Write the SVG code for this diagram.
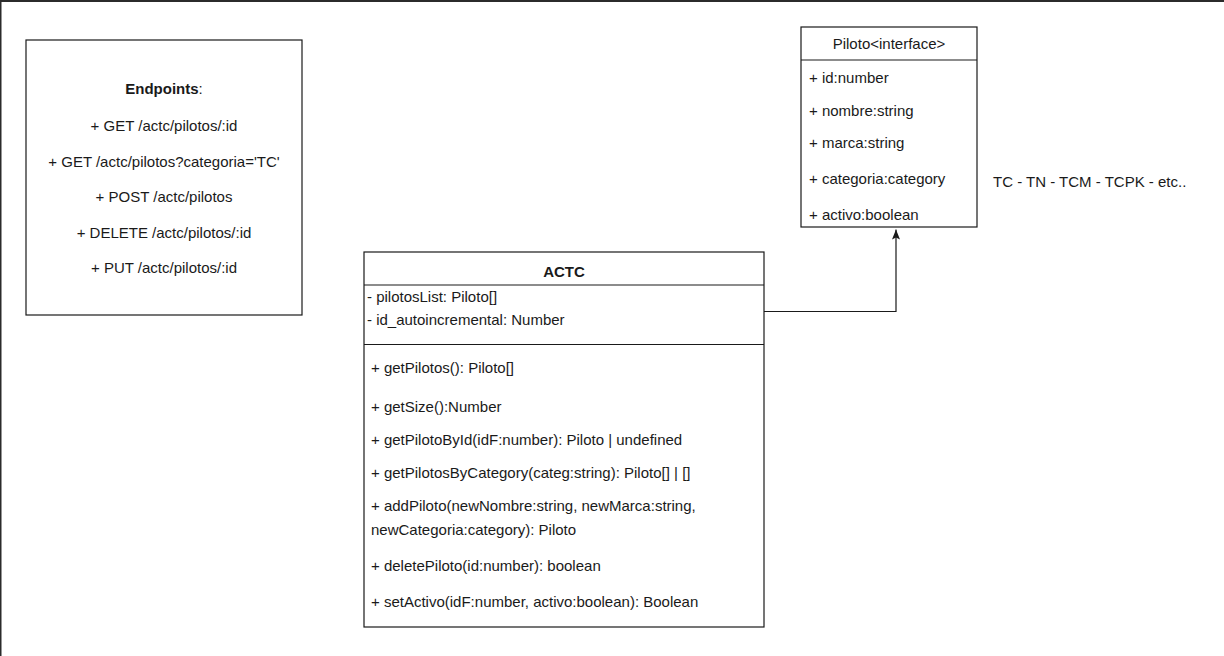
<svg xmlns="http://www.w3.org/2000/svg" width="1224" height="656" viewBox="0 0 1224 656">
<style>
  .box { fill: #ffffff; stroke: #1a1a1a; stroke-width: 1.2; }
  .sep { stroke: #1a1a1a; stroke-width: 1.2; fill: none; }
  .t { font-family: "Liberation Sans", Arial, Helvetica, sans-serif; font-size: 15px; fill: #1a1a1a; }
  .c { text-anchor: middle; }
  .b { font-weight: bold; }
  .edge { stroke: #1a1a1a; stroke-width: 1.2; fill: none; }
</style>
<defs>
  <marker id="arrow" viewBox="0 0 10 8" refX="10" refY="4" markerWidth="10" markerHeight="8" markerUnits="userSpaceOnUse" orient="auto">
    <path d="M0,0 L10,4 L0,8 L2,4 Z" fill="#1a1a1a"/>
  </marker>
</defs>
<rect x="0" y="0" width="1224" height="656" fill="#ffffff"/>
<rect x="0" y="0" width="1224" height="2" fill="#2b2b2b"/>
<rect x="0" y="0" width="1.5" height="656" fill="#2b2b2b"/>

<g id="connectors">
  <path class="edge" d="M764,311.5 H896 V229.5" marker-end="url(#arrow)"/>
</g>

<g id="endpoints">
  <rect class="box" x="26" y="40" width="276" height="275"/>
  <text class="t c" x="164" y="94"><tspan class="b">Endpoints</tspan>:</text>
  <text class="t c" x="164" y="131">+ GET /actc/pilotos/:id</text>
  <text class="t c" x="164" y="167">+ GET /actc/pilotos?categoria='TC'</text>
  <text class="t c" x="164" y="202">+ POST /actc/pilotos</text>
  <text class="t c" x="164" y="238">+ DELETE /actc/pilotos/:id</text>
  <text class="t c" x="164" y="273">+ PUT /actc/pilotos/:id</text>
</g>

<g id="piloto">
  <rect class="box" x="801" y="27" width="176" height="200"/>
  <line class="sep" x1="801" y1="60" x2="977" y2="60"/>
  <text class="t c" x="889" y="49">Piloto&lt;interface&gt;</text>
  <text class="t" x="809" y="83">+ id:number</text>
  <text class="t" x="809" y="116">+ nombre:string</text>
  <text class="t" x="809" y="148">+ marca:string</text>
  <text class="t" x="809" y="184">+ categoria:category</text>
  <text class="t" x="809" y="220">+ activo:boolean</text>
</g>

<g id="categorias">
  <text class="t" x="993" y="187">TC - TN - TCM - TCPK - etc..</text>
</g>

<g id="actc">
  <rect class="box" x="364" y="252" width="400" height="375"/>
  <line class="sep" x1="364" y1="285" x2="764" y2="285"/>
  <line class="sep" x1="364" y1="344.5" x2="764" y2="344.5"/>
  <text class="t c b" x="564" y="277">ACTC</text>
  <text class="t" x="367" y="302">- pilotosList: Piloto[]</text>
  <text class="t" x="367" y="325">- id_autoincremental: Number</text>
  <text class="t" x="371" y="373">+ getPilotos(): Piloto[]</text>
  <text class="t" x="371" y="412">+ getSize():Number</text>
  <text class="t" x="371" y="445">+ getPilotoById(idF:number): Piloto | undefined</text>
  <text class="t" x="371" y="478">+ getPilotosByCategory(categ:string): Piloto[] | []</text>
  <text class="t" x="371" y="511">+ addPiloto(newNombre:string, newMarca:string,</text>
  <text class="t" x="371" y="535">newCategoria:category): Piloto</text>
  <text class="t" x="371" y="571">+ deletePiloto(id:number): boolean</text>
  <text class="t" x="371" y="607">+ setActivo(idF:number, activo:boolean): Boolean</text>
</g>
</svg>
